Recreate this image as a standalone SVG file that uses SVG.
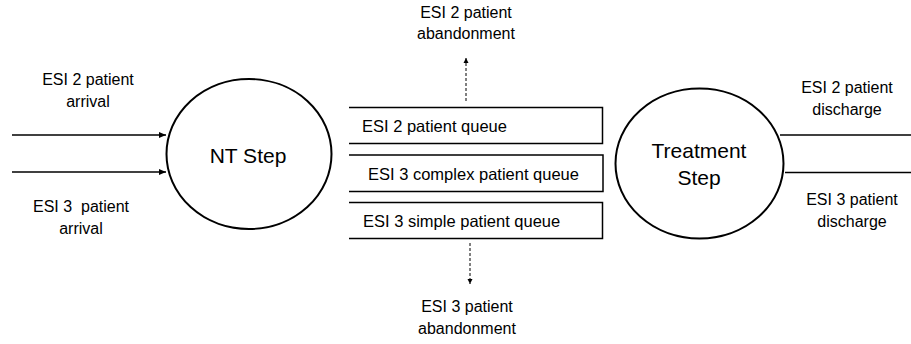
<svg xmlns="http://www.w3.org/2000/svg" width="911" height="344" viewBox="0 0 911 344">
<defs>
<marker id="ah" markerWidth="8" markerHeight="8" refX="7" refY="4" orient="auto" markerUnits="userSpaceOnUse">
<path d="M0,1 L7,4 L0,7 Z" fill="#000"/>
</marker>
<marker id="ahs" markerWidth="6" markerHeight="6" refX="5" refY="3" orient="auto" markerUnits="userSpaceOnUse">
<path d="M0,0.5 L5,3 L0,5.5 Z" fill="#000"/>
</marker>
</defs>
<style>
text{font-family:"Liberation Sans",Arial,sans-serif;fill:#000}
.lbl{font-size:16px;text-anchor:middle}
.q{font-size:16.5px}
.big{font-size:21px;text-anchor:middle}
.node{fill:#fff;stroke:#000;stroke-width:2}
.ln{stroke:#000;stroke-width:1.5;fill:none}
.dash{stroke:#000;stroke-width:1;fill:none;stroke-dasharray:3,2}
</style>
<rect width="911" height="344" fill="#fff"/>
<g id="connectors">
<line class="ln" x1="12" y1="135" x2="166" y2="135" marker-end="url(#ah)"/>
<line class="ln" x1="12" y1="172" x2="166" y2="172" marker-end="url(#ah)"/>
<line class="dash" x1="466" y1="101" x2="466" y2="58" marker-end="url(#ahs)"/>
<line class="dash" x1="470" y1="243" x2="470" y2="284" marker-end="url(#ahs)"/>
<line class="ln" x1="780" y1="135" x2="911" y2="135"/>
<line class="ln" x1="785" y1="172.5" x2="911" y2="172.5"/>
</g>
<g id="labels">
<text class="lbl" x="88" y="85">ESI 2 patient</text>
<text class="lbl" x="88" y="107">arrival</text>
<text class="lbl" x="81" y="212" xml:space="preserve">ESI 3  patient</text>
<text class="lbl" x="81" y="234">arrival</text>
<text class="lbl" x="466" y="18">ESI 2 patient</text>
<text class="lbl" x="466" y="39">abandonment</text>
<text class="lbl" x="467" y="312">ESI 3 patient</text>
<text class="lbl" x="467" y="334">abandonment</text>
<text class="lbl" x="847" y="93">ESI 2 patient</text>
<text class="lbl" x="847" y="115">discharge</text>
<text class="lbl" x="852" y="205">ESI 3 patient</text>
<text class="lbl" x="852" y="227">discharge</text>
</g>
<g id="nt-step">
<ellipse class="node" cx="249" cy="154" rx="82.5" ry="75"/>
<text class="big" x="248" y="163">NT Step</text>
</g>
<g id="treatment-step">
<ellipse class="node" cx="699.5" cy="163.5" rx="84" ry="75"/>
<text class="big" x="699" y="158">Treatment</text>
<text class="big" x="699" y="185">Step</text>
</g>
<g id="queue-esi2">
<path class="ln" d="M349,107.5 H602.5 V143.5 H349"/>
<text class="q" x="362" y="132">ESI 2 patient queue</text>
</g>
<g id="queue-esi3-complex">
<path class="ln" d="M349,155 H603 V191.5 H349"/>
<text class="q" x="368" y="180">ESI 3 complex patient queue</text>
</g>
<g id="queue-esi3-simple">
<path class="ln" d="M349,202.5 H602.5 V238.5 H349"/>
<text class="q" x="363" y="227">ESI 3 simple patient queue</text>
</g>
</svg>
